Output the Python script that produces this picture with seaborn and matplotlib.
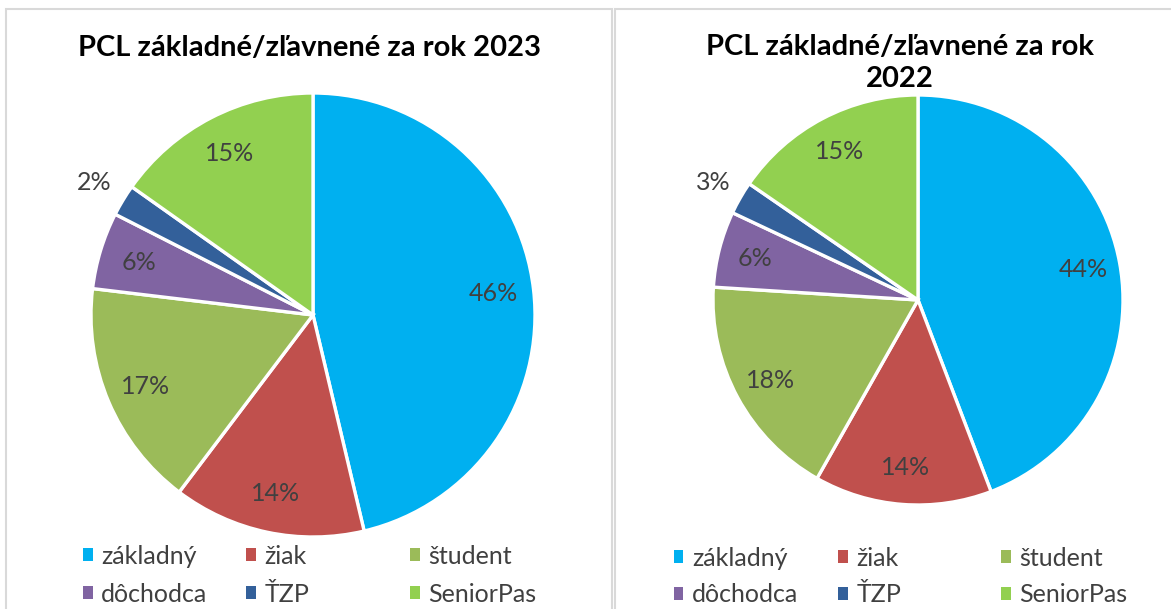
import numpy as np
import matplotlib.pyplot as plt
import seaborn as sns
from matplotlib.patches import Patch, Rectangle

# ──────────────────────────────────────────────
# DATA (shares in %)
# ──────────────────────────────────────────────
categories = ['základný', 'žiak', 'študent', 'dôchodca', 'ŤZP', 'SeniorPas']
share_2023 = [46.3, 14.0, 16.6, 5.6, 2.3, 15.2]
share_2022 = [44.2, 14.0, 17.8, 6.0, 2.6, 15.4]
titles = ['PCL základné/zľavnené za rok 2023',
          'PCL základné/zľavnené za rok\n2022']
colors = ['#00B0F0', '#C0504D', '#9BBB59', '#8064A2', '#33609A', '#92D050']

sns.set_theme(style='white')
plt.rcParams['font.family'] = ['Lato', 'DejaVu Sans']

W, H = 1171, 609
fig = plt.figure(figsize=(W / 100, H / 100), dpi=100)

# panel frames (pixel coords)
for x0, x1 in [(6, 612), (615, 1180)]:
    fig.patches.append(Rectangle((x0 / W, -0.1), (x1 - x0) / W, 1.1 - 9 / H,
                                 transform=fig.transFigure, fill=False,
                                 edgecolor='#D9D9D9', linewidth=1.5))

panels = [
    dict(values=share_2023, title=titles[0], cx=313, cy=315, r=222,
         title_xy=(309, 48), leg_x=[83, 246, 410], leg_y=[556, 594]),
    dict(values=share_2022, title=titles[1], cx=918, cy=300, r=205,
         title_xy=(900, 63), leg_x=[674, 838, 1001], leg_y=[558, 595]),
]

for p in panels:
    cx, cy, r = p['cx'], p['cy'], p['r']
    ax = fig.add_axes([(cx - r) / W, (H - cy - r) / H, 2 * r / W, 2 * r / H])
    wedges, _, autotexts = ax.pie(
        p['values'], colors=colors, startangle=90, counterclock=False,
        autopct='%.0f%%', pctdistance=0.82,
        wedgeprops=dict(edgecolor='white', linewidth=2.4),
        textprops=dict(color='#404040', fontsize=18))
    ax.set_xlim(-1, 1)
    ax.set_ylim(-1, 1)
    ax.set_aspect('equal')
    ax.axis('off')

    # small slices get their label outside the pie
    for w, t, v in zip(wedges, autotexts, p['values']):
        t.set_clip_on(False)
        if v < 4:
            mid = np.deg2rad((w.theta1 + w.theta2) / 2)
            t.set_position((1.15 * np.cos(mid), 1.15 * np.sin(mid)))

    fig.text(p['title_xy'][0] / W, 1 - p['title_xy'][1] / H, p['title'],
             ha='center', va='center', fontsize=21, fontweight='bold',
             color='black', linespacing=1.3)

    # legend, 3 columns x 2 rows
    for i, (lab, col) in enumerate(zip(categories, colors)):
        lx = p['leg_x'][i % 3]
        ly = p['leg_y'][i // 3]
        fig.legend(handles=[Patch(facecolor=col, edgecolor='none', label=lab)],
                   loc='center left', bbox_to_anchor=(lx / W, 1 - ly / H),
                   frameon=False, borderpad=0, borderaxespad=0,
                   handlelength=0.38, handleheight=0.38, handletextpad=0.35,
                   fontsize=18, labelcolor='#404040')

plt.savefig('out.png', dpi=100)
